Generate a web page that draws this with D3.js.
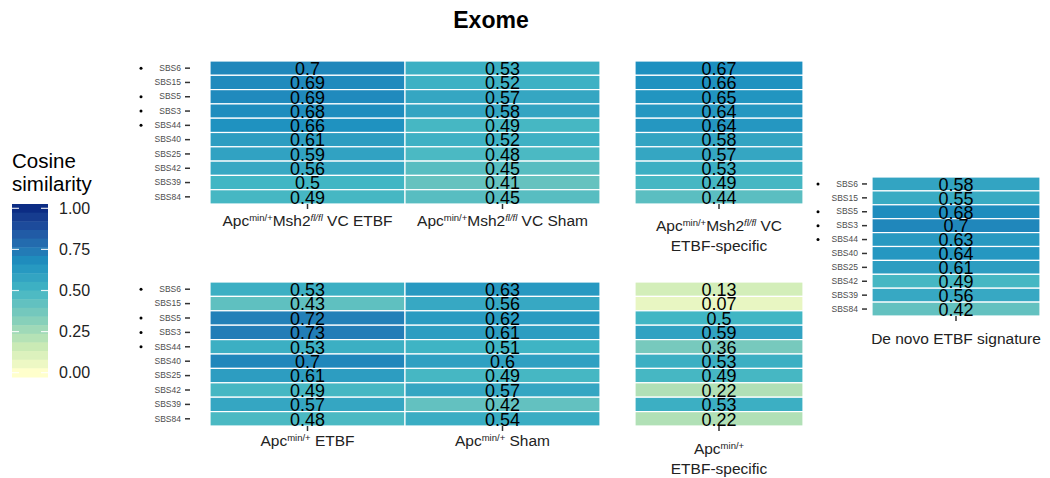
<!DOCTYPE html>
<html>
<head>
<meta charset="utf-8">
<script src="https://cdn.jsdelivr.net/npm/d3@7"></script>
<style>
  body { margin: 0; background: #fff; }
  text { font-family: "Liberation Sans", Arial, Helvetica, sans-serif; }
</style>
</head>
<body>
<svg id="chart" width="1050" height="478"></svg>
<script>
// signatures (rows, top to bottom) and which ones get a dot
var signatures = ["SBS6","SBS15","SBS5","SBS3","SBS44","SBS40","SBS25","SBS42","SBS39","SBS84"];
var dotted = ["SBS6","SBS5","SBS3","SBS44"];

// cosine similarity per column
var vc_etbf        = [0.7,0.69,0.69,0.68,0.66,0.61,0.59,0.56,0.5,0.49];
var vc_sham        = [0.53,0.52,0.57,0.58,0.49,0.52,0.48,0.45,0.41,0.45];
var vc_specific    = [0.67,0.66,0.65,0.64,0.64,0.58,0.57,0.53,0.49,0.44];
var apc_etbf       = [0.53,0.43,0.72,0.73,0.53,0.7,0.61,0.49,0.57,0.48];
var apc_sham       = [0.63,0.56,0.62,0.61,0.51,0.6,0.49,0.57,0.42,0.54];
var apc_specific   = [0.13,0.07,0.5,0.59,0.36,0.53,0.49,0.22,0.53,0.22];
var denovo         = [0.58,0.55,0.68,0.7,0.63,0.64,0.61,0.49,0.56,0.42];

var legend_ticks = [0, 0.25, 0.5, 0.75, 1];

const svg = d3.select("#chart");

// brewer YlGnBu (distiller, 7 class) interpolated in Lab
var pal = ["#ffffcc","#c7e9b4","#7fcdbb","#41b6c4","#1d91c0","#225ea8","#0c2c84"];
var color = d3.scaleLinear()
    .domain(pal.map((c, i) => i / (pal.length - 1)))
    .range(pal)
    .interpolate(d3.interpolateLab);

// label pieces: [text, kind] kind: n normal, s superscript, i italic superscript
var lab_vc = [["Apc","n"],["min/+","s"],["Msh2","n"],["fl/fl","i"]];
var lab_apc = [["Apc","n"],["min/+","s"]];

var panels = [
  {cols: [{v: vc_etbf, lab: [lab_vc.concat([[" VC ETBF","n"]])]},
          {v: vc_sham, lab: [lab_vc.concat([[" VC Sham","n"]])]}],
   x0: 210, x1: 600, y0: 61, y1: 204, axis: true, labY: 226},
  {cols: [{v: vc_specific, lab: [lab_vc.concat([[" VC","n"]]), [["ETBF-specific","n"]]]}],
   x0: 635, x1: 803, y0: 61, y1: 204, axis: false, labY: 231},
  {cols: [{v: apc_etbf, lab: [lab_apc.concat([[" ETBF","n"]])]},
          {v: apc_sham, lab: [lab_apc.concat([[" Sham","n"]])]}],
   x0: 210, x1: 600, y0: 282, y1: 426, axis: true, labY: 446},
  {cols: [{v: apc_specific, lab: [lab_apc, [["ETBF-specific","n"]]]}],
   x0: 635, x1: 803, y0: 282, y1: 426, axis: false, labY: 454},
  {cols: [{v: denovo, lab: [[["De novo ETBF signature","n"]]]}],
   x0: 872, x1: 1040, y0: 177, y1: 316, axis: true, labY: 344, axisRight: 5}
];

panels.forEach(function(p) {
  var x = d3.scaleBand().domain(d3.range(p.cols.length)).range([p.x0, p.x1]);
  var y = d3.scaleBand().domain(signatures).range([p.y0, p.y1]);
  var g = svg.append("g");

  p.cols.forEach(function(col, ci) {
    var cells = g.selectAll(null).data(signatures.map((s, i) => ({s: s, v: col.v[i]})));
    cells.enter().append("rect")
      .attr("x", x(ci))
      .attr("y", d => y(d.s))
      .attr("width", x.bandwidth())
      .attr("height", y.bandwidth())
      .attr("fill", d => color(d.v))
      .attr("stroke", "#fff")
      .attr("stroke-width", 1.2);
    cells.enter().append("text")
      .attr("x", x(ci) + x.bandwidth() / 2)
      .attr("y", d => y(d.s) + y.bandwidth() / 2)
      .attr("dy", "0.38em")
      .attr("text-anchor", "middle")
      .attr("font-size", 18)
      .attr("fill", "#000")
      .text(d => d.v);

    // x tick
    var cx = x(ci) + x.bandwidth() / 2;
    g.append("line")
      .attr("x1", cx).attr("x2", cx)
      .attr("y1", p.y1).attr("y2", p.y1 + 5)
      .attr("stroke", "#333").attr("stroke-width", 1.5);

    // x label lines
    col.lab.forEach(function(line, li) {
      var t = g.append("text")
        .attr("x", cx)
        .attr("y", p.labY + li * 20)
        .attr("text-anchor", "middle")
        .attr("font-size", 15.5)
        .attr("fill", "#222");
      var raised = false;
      line.forEach(function(piece) {
        var ts = t.append("tspan").text(piece[0]);
        if (piece[1] == "n") {
          if (raised) { ts.attr("dy", 5.5); raised = false; }
        } else {
          ts.attr("font-size", 9.5).attr("dy", raised ? 0 : -5.5);
          if (piece[1] == "i") ts.attr("font-style", "italic");
          raised = true;
        }
      });
    });
  });

  if (p.axis) {
    var gap = p.axisRight || 20;
    var ax = g.append("g")
      .attr("transform", `translate(${p.x0 - gap},0)`)
      .call(d3.axisLeft(y).tickSize(5).tickPadding(4));
    ax.select(".domain").remove();
    ax.selectAll(".tick line").attr("stroke", "#333").attr("stroke-width", 1.5);
    ax.selectAll(".tick text")
      .attr("fill", "#4d4d4d")
      .attr("font-size", 8.5)
      .attr("font-family", "\"Liberation Sans\", Arial, sans-serif");
    // dots next to selected signatures
    g.selectAll(null).data(dotted).enter().append("circle")
      .attr("cx", p.x0 - gap - 49)
      .attr("cy", d => y(d) + y.bandwidth() / 2)
      .attr("r", 1.5)
      .attr("fill", "#000");
  }
});

// title
svg.append("text")
  .attr("x", 491).attr("y", 28)
  .attr("text-anchor", "middle")
  .attr("font-size", 23)
  .attr("font-weight", "bold")
  .text("Exome");

// legend
var lg = svg.append("g");
lg.append("text").attr("x", 12).attr("y", 168).attr("font-size", 20.5).text("Cosine");
lg.append("text").attr("x", 12).attr("y", 191).attr("font-size", 20.5).text("similarity");

var nbin = 20, barTop = 204, barBot = 377, barX = 12, barW = 36;
var binH = (barBot - barTop) / nbin;
var ly = d3.scaleLinear().domain([1, 0]).range([barTop + binH / 2, barBot - binH / 2]);
lg.selectAll(null).data(d3.range(nbin)).enter().append("rect")
  .attr("x", barX)
  .attr("y", i => barTop + i * binH)
  .attr("width", barW)
  .attr("height", binH + 0.5)
  .attr("fill", i => color(1 - i / (nbin - 1)));

legend_ticks.forEach(function(v) {
  [barX, barX + barW - 7].forEach(function(tx) {
    lg.append("line")
      .attr("x1", tx).attr("x2", tx + 7)
      .attr("y1", ly(v)).attr("y2", ly(v))
      .attr("stroke", "#fff").attr("stroke-width", 1.2).attr("opacity", 0.85);
  });
  lg.append("text")
    .attr("x", 59).attr("y", ly(v) + 5.5)
    .attr("font-size", 16)
    .attr("fill", "#222")
    .text(d3.format(".2f")(v));
});
</script>
</body>
</html>
